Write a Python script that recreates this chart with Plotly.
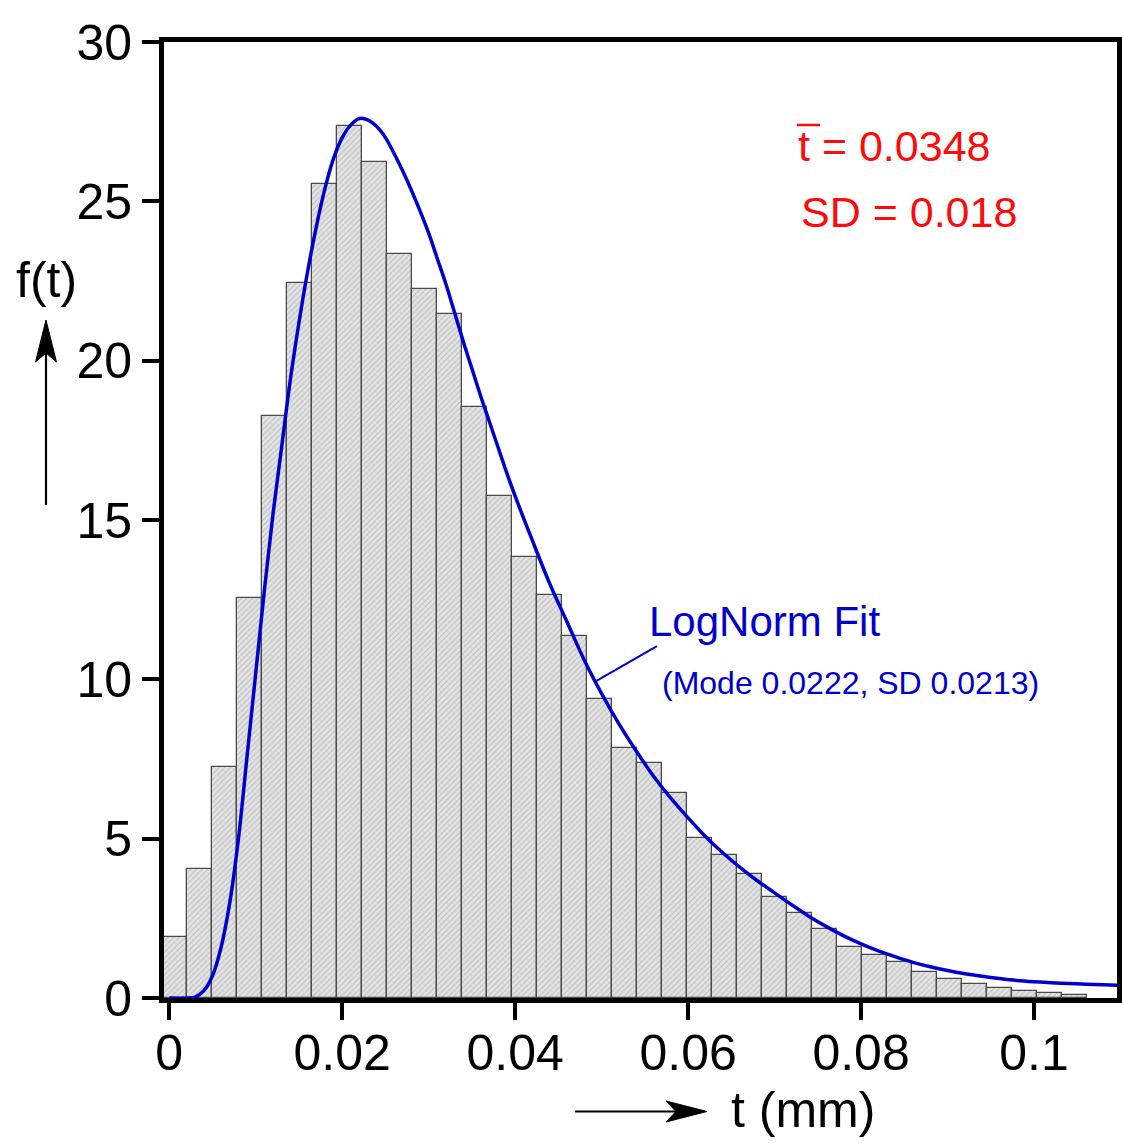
import plotly.graph_objects as go

# ---------------- data ----------------
bin_centers = [0.00065, 0.00354, 0.00643, 0.00932, 0.01221, 0.0151, 0.01799, 0.02088,
               0.02377, 0.02666, 0.02955, 0.03244, 0.03533, 0.03822, 0.04111, 0.044,
               0.04689, 0.04978, 0.05267, 0.05556, 0.05845, 0.06134, 0.06423, 0.06712,
               0.07001, 0.0729, 0.07579, 0.07868, 0.08157, 0.08446, 0.08735, 0.09024,
               0.09313, 0.09602, 0.09891, 0.1018, 0.10469]
bin_width = 0.00289
freq = [1.9, 4.04, 7.25, 12.56, 18.25, 22.45, 25.55, 27.36, 26.25, 23.34, 22.26, 21.46,
        18.55, 15.74, 13.85, 12.65, 11.35, 9.375, 7.86, 7.36, 6.44, 5.02, 4.48, 3.89,
        3.18, 2.66, 2.18, 1.61, 1.35, 1.125, 0.82, 0.60, 0.45, 0.30, 0.21, 0.15, 0.08]

fit_t = [0.000, 0.002, 0.003, 0.004, 0.005, 0.006, 0.007, 0.008, 0.009, 0.010,
         0.011, 0.012, 0.013, 0.014, 0.015, 0.016, 0.017, 0.018, 0.019, 0.020,
         0.021, 0.022, 0.023, 0.024, 0.025, 0.026, 0.027, 0.028, 0.029, 0.030,
         0.031, 0.032, 0.033, 0.034, 0.035, 0.036, 0.037, 0.038, 0.039, 0.040,
         0.042, 0.044, 0.046, 0.048, 0.050, 0.052, 0.054, 0.056, 0.058, 0.060,
         0.062, 0.064, 0.066, 0.068, 0.070, 0.072, 0.074, 0.076, 0.078, 0.080,
         0.082, 0.084, 0.086, 0.088, 0.090, 0.092, 0.094, 0.096, 0.098, 0.100,
         0.102, 0.104, 0.106, 0.108, 0.110]
fit_f = [0.0, 0.0, 0.03, 0.23, 0.7, 1.6, 3.0, 5.0, 7.6, 10.2,
         12.8, 15.2, 17.3, 19.4, 21.2, 22.8, 24.2, 25.4, 26.35, 27.0,
         27.4, 27.6, 27.55, 27.35, 27.0, 26.5, 25.95, 25.35, 24.7, 24.0,
         23.2, 22.4, 21.5, 20.6, 19.75, 18.9, 18.1, 17.3, 16.5, 15.75,
         14.35, 13.0, 11.8, 10.6, 9.55, 8.6, 7.75, 6.96, 6.27, 5.65,
         5.07, 4.56, 4.1, 3.68, 3.3, 2.92, 2.56, 2.24, 1.95, 1.70,
         1.48, 1.29, 1.12, 0.98, 0.86, 0.76, 0.68, 0.61, 0.55, 0.51,
         0.48, 0.455, 0.435, 0.415, 0.40]

x_tickvals = [0, 0.02, 0.04, 0.06, 0.08, 0.1]
x_ticktext = ["0", "0.02", "0.04", "0.06", "0.08", "0.1"]
y_tickvals = [0, 5, 10, 15, 20, 25, 30]

# ---------------- layout geometry ----------------
W, H = 1122, 1143
L, R, T, B = 164, 5, 42, 145
PW, PH = W - L - R, H - T - B

def xp(px):
    return (px - L) / PW

def yp(py):
    return (H - B - py) / PH

FONT = "Liberation Sans, Arial, Helvetica, sans-serif"
BLUE = "#0000cc"
RED = "#ff0a0a"

fig = go.Figure()

fig.add_trace(go.Bar(
    x=bin_centers, y=freq, width=bin_width,
    marker=dict(
        color="#e2e2e2",
        line=dict(color="#4a4a4a", width=1.3),
        pattern=dict(shape="/", fgcolor="#959595", bgcolor="#e3e3e3", size=4, solidity=0.25),
    ),
    showlegend=False, hoverinfo="skip",
))

fig.add_trace(go.Scatter(
    x=fit_t, y=fit_f, mode="lines",
    line=dict(color=BLUE, width=3.5, shape="spline", smoothing=1.0),
    showlegend=False, hoverinfo="skip",
))

axis_common = dict(
    showgrid=False, zeroline=False, showline=True, linecolor="black", linewidth=5,
    mirror=True, ticks="outside", tickwidth=4, tickcolor="black", ticklen=17,
    tickfont=dict(family=FONT, size=50, color="black"), automargin=False,
)
fig.update_xaxes(range=[-0.00061, 0.1096], tickvals=x_tickvals, ticktext=x_ticktext,
                 ticklabelstandoff=-10, **axis_common)
fig.update_yaxes(range=[0, 30], tickvals=y_tickvals, **axis_common)

annotations = [
    dict(x=0.05525, y=11.83, xref="x", yref="y", text="LogNorm Fit", showarrow=False,
         xanchor="left", yanchor="middle", font=dict(family=FONT, size=42, color=BLUE)),
    dict(x=0.05675, y=9.88, xref="x", yref="y", text="(Mode 0.0222, SD 0.0213)", showarrow=False,
         xanchor="left", yanchor="middle", font=dict(family=FONT, size=32, color=BLUE)),
    dict(x=0.0725, y=26.75, xref="x", yref="y", text="t = 0.0348", showarrow=False,
         xanchor="left", yanchor="middle", font=dict(family=FONT, size=43, color=RED)),
    dict(x=0.07285, y=24.65, xref="x", yref="y", text="SD = 0.018", showarrow=False,
         xanchor="left", yanchor="middle", font=dict(family=FONT, size=43, color=RED)),
    dict(x=xp(46), y=yp(280), xref="paper", yref="paper", text="f(t)", showarrow=False,
         xanchor="center", yanchor="middle", font=dict(family=FONT, size=50, color="black")),
    dict(x=xp(729), y=yp(1110), xref="paper", yref="paper", text="t (mm)", showarrow=False,
         xanchor="left", yanchor="middle", font=dict(family=FONT, size=50, color="black")),
]

def path_px(points):
    return "M " + " L ".join(f"{xp(a):.5f},{yp(b):.5f}" for a, b in points) + " Z"

shapes = [
    # pointer line from label to curve
    dict(type="line", xref="x", yref="y", x0=0.0494, y0=9.95, x1=0.0564, y1=11.04,
         line=dict(color=BLUE, width=2)),
    # overline of the mean symbol
    dict(type="line", xref="paper", yref="paper", x0=xp(797), y0=yp(125), x1=xp(820), y1=yp(125),
         line=dict(color=RED, width=2.5)),
    # vertical arrow
    dict(type="line", xref="paper", yref="paper", x0=xp(46), y0=yp(505), x1=xp(46), y1=yp(350),
         line=dict(color="black", width=2.2)),
    dict(type="path", xref="paper", yref="paper",
         path=path_px([(46, 320), (56.5, 362), (46, 353), (35.5, 362)]),
         fillcolor="black", line=dict(color="black", width=1)),
    # horizontal arrow
    dict(type="line", xref="paper", yref="paper", x0=xp(575), y0=yp(1111.5), x1=xp(680), y1=yp(1111.5),
         line=dict(color="black", width=2.2)),
    dict(type="path", xref="paper", yref="paper",
         path=path_px([(707, 1111.5), (666, 1101), (676, 1111.5), (666, 1122)]),
         fillcolor="black", line=dict(color="black", width=1)),
]

fig.update_layout(
    width=W, height=H,
    margin=dict(l=L, r=R, t=T, b=B, pad=0, autoexpand=False),
    paper_bgcolor="white", plot_bgcolor="white",
    bargap=0, showlegend=False,
    annotations=annotations, shapes=shapes,
    font=dict(family=FONT),
)

fig.write_html("out.html", config={"displayModeBar": False})
